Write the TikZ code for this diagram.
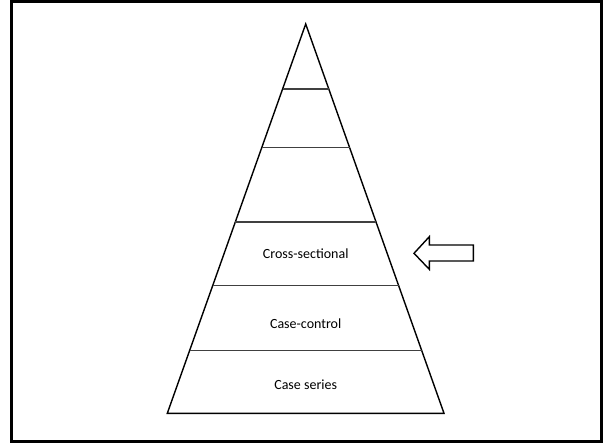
\documentclass[tikz,border=0pt]{standalone}
\usepackage{fontspec}
\setmainfont{Carlito}
\usetikzlibrary{calc}

\begin{document}
\begin{tikzpicture}[x=1pt,y=-1pt]
			\tikzstyle{every node}+=[inner sep=0pt]
			\tikzstyle{layer}=[black!75,line width=1.4pt]
			\tikzstyle{level}=[font=\fontsize{14}{16}\selectfont]
			\useasboundingbox (0,0) rectangle (604,442);
			\draw [black,line width=3pt] (11.5,1.5) rectangle (601,441);
			% pyramid
			\coordinate (apex) at (305.7,24);
			\coordinate (bl) at (167.3,413.3);
			\coordinate (br) at (444,413.3);
			\draw [black,line width=1.4pt,line join=miter] (apex) -- (br) -- (bl) -- cycle;
			\foreach \t in {0.167,0.318,0.509,0.672,0.838}
				\draw [layer] ($(apex)!\t!(bl)$) -- ($(apex)!\t!(br)$);
			\draw (305.7,254) node [level] (crosssec) {Cross-sectional};
			\draw (305.7,323.3) node [level] (casectrl) {Case-control};
			\draw (305.7,384.3) node [level] (caseser) {Case series};
			% pointer
			\draw [black,line width=1.4pt] (414,253.3) -- (429.3,236.7) -- (429.3,245)
				-- (473.3,245) -- (473.3,261) -- (429.3,261) -- (429.3,269.3) -- cycle;
		\end{tikzpicture}
\end{document}
